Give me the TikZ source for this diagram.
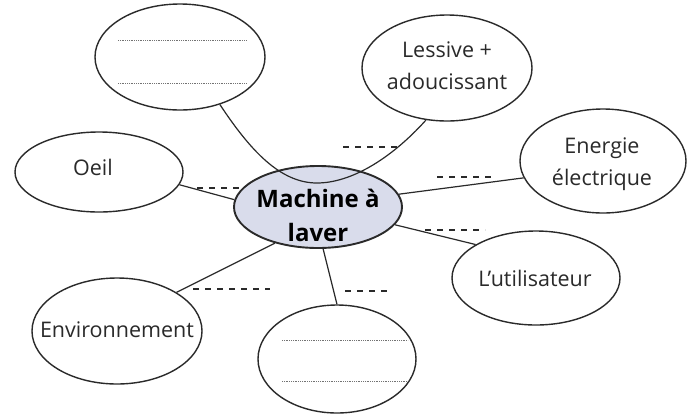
\documentclass[tikz,border=0pt]{standalone}
\usepackage{fontspec}
\setmainfont{Open Sans}
\usetikzlibrary{shapes.geometric}
\definecolor{ink}{HTML}{2A2A2A}
\definecolor{cfill}{HTML}{D9DCEB}
\tikzset{
  blob/.style={ellipse, draw=ink, line width=1.4pt, inner sep=0pt, fill=white},
  lbl/.style={text=ink, align=center, inner sep=0pt, font=\fontsize{21.5}{32}\selectfont},
  link/.style={draw=ink, line width=1.2pt},
  blank/.style={draw=ink, line width=1.3pt, dash pattern=on 6pt off 6pt},
  dots/.style={draw=black!55, line width=0.8pt, dash pattern=on 0.8pt off 1pt}
}
\begin{document}
\begin{tikzpicture}[x=1pt,y=-1pt]
\useasboundingbox (0,0) rectangle (691,416);
\fill[white] (0,0) rectangle (691,416);
% ellipses
\node[blob, minimum width=170pt, minimum height=106pt] (tl) at (180,57) {};
\node[blob, minimum width=170pt, minimum height=106pt] (less) at (447,68) {};
\node[blob, minimum width=166pt, minimum height=104pt] (ener) at (603,161) {};
\node[blob, minimum width=168pt, minimum height=80pt] (oeil) at (99,172) {};
\node[blob, minimum width=168pt, minimum height=94pt] (util) at (536,278) {};
\node[blob, minimum width=170pt, minimum height=106pt] (env) at (117,331) {};
\node[blob, minimum width=158pt, minimum height=108pt] (bot) at (337,359) {};
% central product
\node[ellipse, draw=ink, line width=1.9pt, fill=cfill, inner sep=0pt,
      minimum width=168pt, minimum height=82pt] (mach) at (318,207) {};
% links
\draw[link] (oeil.-9) -- (mach.175);
\draw[link] (env.33) -- (mach.220);
\draw[link] (bot.90) -- (mach.-83);
\draw[link] (mach.-13) -- (util.151);
\draw[link] (mach.9) -- (ener.192);
\coordinate (dip) at (317,183);
\draw[link] (tl.-50) .. controls (250,150) and (280,183) .. (dip)
            .. controls (350,183) and (390,160) .. (less.-112);
% texts
\node[lbl] (tless) at (447,66) {Lessive +\\adoucissant};
\node[lbl] (tener) at (602,164) {Energie\\électrique};
\node[lbl] (toeil) at (93,167) {Oeil};
\node[lbl] (tutil) at (535,278) {L’utilisateur};
\node[lbl] (tenv) at (117,330) {Environnement};
\node[lbl, font=\bfseries\fontsize{24}{34}\selectfont, text=black] (tmach) at (318,215) {Machine à\\laver};
% dotted writing lines
\draw[dots] (118,40) -- (247,40);
\draw[dots] (118,83) -- (247,83);
\draw[dots] (282,340) -- (408,340);
\draw[dots] (282,381) -- (408,381);
% blanks (dashed)
\draw[blank] (343,147) -- (400,147);
\draw[blank] (197,188) -- (240,188);
\draw[blank] (437,177) -- (495,177);
\draw[blank] (425,230) -- (485,230);
\draw[blank] (193,289) -- (270,289);
\draw[blank] (345,291) -- (392,291);
\end{tikzpicture}
\end{document}
